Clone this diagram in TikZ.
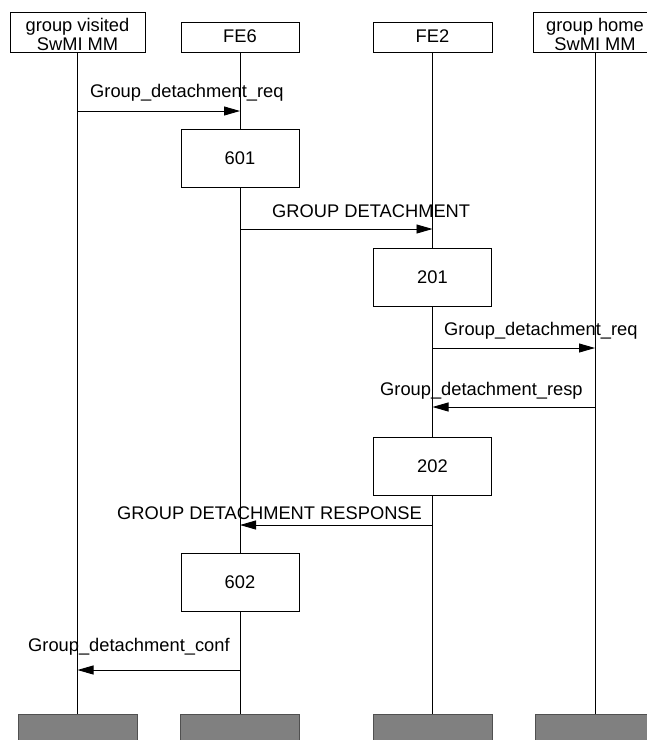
\documentclass[tikz,border=0pt]{standalone}
\usepackage{fontspec}
\setmainfont{Liberation Sans}
\usetikzlibrary{arrows.meta}
\definecolor{footgray}{HTML}{808080}
\definecolor{footedge}{HTML}{505050}
\begin{document}
\begin{tikzpicture}[x=1pt,y=-1pt,
  txt/.style={font=\fontsize{18.3}{18.3}\selectfont, inner sep=0pt},
  hdrbox/.style={draw, line width=0.9pt, inner sep=0pt, fill=white},
  actbox/.style={draw, line width=0.9pt, fill=white, inner sep=0pt,
    minimum width=118pt, minimum height=58pt, font=\fontsize{18.3}{18.3}\selectfont},
  footbox/.style={draw=footedge, line width=0.9pt, fill=footgray, inner sep=0pt,
    minimum width=119pt, minimum height=46pt},
  lifeline/.style={line width=0.9pt},
  msgline/.style={line width=0.9pt, -{Triangle[length=16pt,width=9pt]}}
]
\useasboundingbox (0,0) rectangle (647,740);
\clip (0,0) rectangle (647,740);

% headers
\node[hdrbox, minimum width=135pt, minimum height=40pt] (hv) at (77.5,32) {};
\node[hdrbox, minimum width=118pt, minimum height=30pt] (h6) at (240,37) {};
\node[hdrbox, minimum width=119pt, minimum height=30pt] (h2) at (432.5,37) {};
\node[hdrbox, minimum width=124pt, minimum height=40pt] (hh) at (595,32) {};

\node[txt, anchor=base] (hvt1) at (77.5,31.7) {group visited};
\node[txt, anchor=base] (hvt2) at (77.5,50) {SwMI MM};
\node[txt, anchor=base] (h6t) at (240,42.3) {FE6};
\node[txt, anchor=base] (h2t) at (432.5,42.3) {FE2};
\node[txt, anchor=base] (hht1) at (595,31.7) {group home};
\node[txt, anchor=base] (hht2) at (595,50) {SwMI MM};

% footers
\node[footbox, anchor=north] (fv) at (77.5,714) {};
\node[footbox, anchor=north] (f6) at (240,714) {};
\node[footbox, anchor=north] (f2) at (432.5,714) {};
\node[footbox, anchor=north] (fh) at (595,714) {};

% lifelines
\draw[lifeline] (hv.south) -- (fv.north);
\draw[lifeline] (h6.south) -- (f6.north);
\draw[lifeline] (h2.south) -- (f2.north);
\draw[lifeline] (hh.south) -- (fh.north);

% action boxes
\node[actbox] (a601) at (240,158.5) {601};
\node[actbox] (a201) at (432.5,277) {201};
\node[actbox] (a202) at (432.5,466) {202};
\node[actbox] (a602) at (240,582) {602};

% messages
\draw[msgline] (hv.south |- 0,111) -- (h6.south |- 0,111);
\node[txt, anchor=base west] (l1) at (90,97) {Group\_detachment\_req};

\draw[msgline] (h6.south |- 0,229) -- (h2.south |- 0,229);
\node[txt, anchor=base west] (l2) at (272,217) {GROUP DETACHMENT};

\draw[msgline] (h2.south |- 0,348) -- (hh.south |- 0,348);
\node[txt, anchor=base west] (l3) at (444,335) {Group\_detachment\_req};

\draw[msgline] (hh.south |- 0,407) -- (h2.south |- 0,407);
\node[txt, anchor=base west] (l4) at (380,395) {Group\_detachment\_resp};

\draw[msgline] (h2.south |- 0,525) -- (h6.south |- 0,525);
\node[txt, anchor=base west] (l5) at (117,519) {GROUP DETACHMENT RESPONSE};

\draw[msgline] (h6.south |- 0,670) -- (hv.south |- 0,670);
\node[txt, anchor=base west] (l6) at (28,651) {Group\_detachment\_conf};
\end{tikzpicture}
\end{document}
